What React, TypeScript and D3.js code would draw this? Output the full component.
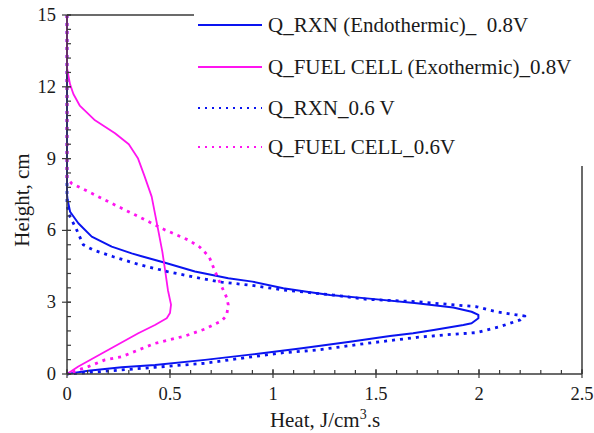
import React from "react";
import * as d3 from "d3";

// Heat profiles along the cell height: [heat J/cm3.s, height cm]
const rxn08: [number, number][] = [
  [0, 15], [0, 7.5], [0.003, 7.27], [0.015, 6.78], [0.055, 6.3], [0.12, 5.74], [0.217, 5.32],
  [0.314, 5.04], [0.362, 4.92], [0.476, 4.65], [0.621, 4.28], [0.783, 4.0], [0.9, 3.86],
  [1.05, 3.58], [1.164, 3.44], [1.277, 3.3], [1.455, 3.16], [1.698, 2.96], [1.875, 2.78],
  [1.964, 2.6], [1.997, 2.47], [1.997, 2.33], [1.964, 2.12], [1.924, 2.05], [1.78, 1.84],
  [1.68, 1.7], [1.568, 1.59], [1.374, 1.35], [1.131, 1.07], [0.9, 0.82], [0.67, 0.59],
  [0.427, 0.38], [0.265, 0.28], [0.103, 0.14], [0, 0],
];

const fuel08: [number, number][] = [
  [0, 15], [0, 12.8], [0.006, 12.5], [0.015, 12.1], [0.031, 11.7], [0.063, 11.2], [0.136, 10.6],
  [0.233, 10.06], [0.3, 9.6], [0.345, 9.0], [0.375, 8.3], [0.411, 7.41], [0.443, 6.0],
  [0.463, 5.1], [0.476, 4.35], [0.49, 3.5], [0.505, 2.9], [0.5, 2.55], [0.484, 2.33],
  [0.427, 2.05], [0.346, 1.7], [0.184, 0.93], [0.055, 0.31], [0, 0],
];

const rxn06: [number, number][] = [
  [0, 15], [0, 7.0], [0.005, 6.9], [0.015, 6.57], [0.047, 6.02], [0.079, 5.4], [0.128, 5.18],
  [0.225, 4.9], [0.354, 4.56], [0.488, 4.28], [0.646, 4.0], [0.75, 3.84], [0.9, 3.7],
  [1.05, 3.51], [1.293, 3.3], [1.455, 3.12], [1.698, 3.02], [1.892, 2.88], [1.988, 2.81],
  [2.086, 2.6], [2.183, 2.47], [2.223, 2.42], [2.2, 2.26], [2.102, 1.98], [1.988, 1.73],
  [1.827, 1.63], [1.698, 1.53], [1.455, 1.28], [1.212, 1.0], [1.05, 0.89], [0.9, 0.72],
  [0.67, 0.45], [0.427, 0.28], [0.265, 0.17], [0.103, 0.06], [0, 0],
];

const fuel06: [number, number][] = [
  [0, 15], [0, 8.18], [0.023, 7.96], [0.12, 7.55], [0.217, 7.13], [0.33, 6.65], [0.476, 6.02],
  [0.589, 5.6], [0.645, 5.3], [0.69, 4.9], [0.718, 4.3], [0.751, 3.65], [0.775, 3.2],
  [0.783, 2.88], [0.775, 2.45], [0.751, 2.22], [0.67, 1.88], [0.573, 1.59], [0.427, 1.28],
  [0.265, 0.72], [0.184, 0.59], [0.103, 0.31], [0, 0],
];

const xTicks = [0, 0.5, 1, 1.5, 2, 2.5];
const yTicks = [0, 3, 6, 9, 12, 15];
const xTickLabels = ["0", "0.5", "1", "1.5", "2", "2.5"];
const yTickLabels = ["0", "3", "6", "9", "12", "15"];

const seriesNames = [
  "Q_RXN (Endothermic)_  0.8V",
  "Q_FUEL CELL (Exothermic)_0.8V",
  "Q_RXN_0.6 V",
  "Q_FUEL CELL_0.6V",
];

const BLUE = "#0a14f0";
const MAGENTA = "#ff14f0";
const AXIS = "#3a3a3a";
const FONT = "Liberation Serif";

export default function App() {
  const W = 594;
  const H = 433;
  const left = 67;
  const right = 582;
  const top = 15;
  const bottom = 374;

  const x = d3.scaleLinear().domain([0, 2.5]).range([left, right]);
  const y = d3.scaleLinear().domain([0, 15]).range([bottom, top]);

  const line = d3
    .line<[number, number]>()
    .x((d) => x(d[0]))
    .y((d) => y(d[1]));

  const series = [
    { data: rxn08, color: BLUE, dash: undefined as string | undefined, width: 2 },
    { data: fuel08, color: MAGENTA, dash: undefined as string | undefined, width: 1.8 },
    { data: rxn06, color: BLUE, dash: "3 5", width: 2.8 },
    { data: fuel06, color: MAGENTA, dash: "3 5", width: 2.8 },
  ];

  const xMinor = d3.range(0, 2.5001, 0.1);
  const yMinor = d3.range(0, 15.001, 0.6);

  const legendY = [25, 67, 108, 147];
  const txt = { fontFamily: FONT, fill: "#1a1a1a" };

  return (
    <svg
      width={W}
      height={H}
      style={{ position: "absolute", left: 0, top: 0, background: "#fff" }}
    >
      <rect x={0} y={0} width={W} height={H} fill="#fff" />

      {/* curves */}
      <g fill="none" strokeLinejoin="round">
        {series.map((s, i) => (
          <path
            key={i}
            d={line(s.data) || ""}
            stroke={s.color}
            strokeWidth={s.width}
            strokeDasharray={s.dash}
          />
        ))}
      </g>

      {/* frame */}
      <g stroke={AXIS} strokeWidth={1.5} fill="none">
        <line x1={left} y1={top} x2={left} y2={bottom} />
        <line x1={left} y1={bottom} x2={right} y2={bottom} />
        <line x1={left} y1={top} x2={W} y2={top} />
        <line x1={right} y1={top} x2={right} y2={bottom} />
      </g>

      {/* ticks */}
      <g stroke={AXIS} strokeWidth={1.2}>
        {xMinor.map((v, i) => (
          <line key={"xm" + i} x1={x(v)} x2={x(v)} y1={bottom} y2={bottom - 4} />
        ))}
        {xTicks.map((v, i) => (
          <line key={"xM" + i} x1={x(v)} x2={x(v)} y1={bottom + 4} y2={bottom - 5} />
        ))}
        {yMinor.map((v, i) => (
          <line key={"ym" + i} x1={left} x2={left + 4} y1={y(v)} y2={y(v)} />
        ))}
        {yTicks.map((v, i) => (
          <line key={"yM" + i} x1={left - 5} x2={left + 4} y1={y(v)} y2={y(v)} />
        ))}
      </g>

      {/* tick labels */}
      <g>
        {xTicks.map((v, i) => (
          <text key={"xl" + i} x={x(v)} y={400} textAnchor="middle" fontSize={18.5} style={txt}>
            {xTickLabels[i]}
          </text>
        ))}
        {yTicks.map((v, i) => (
          <text key={"yl" + i} x={56} y={y(v) + 6} textAnchor="end" fontSize={18.5} style={txt}>
            {yTickLabels[i]}
          </text>
        ))}
      </g>

      {/* axis titles */}
      <text x={325} y={427} textAnchor="middle" fontSize={21} style={txt}>
        Heat, J/cm<tspan dy={-8} fontSize={14}>3</tspan>
        <tspan dy={8}>.s</tspan>
      </text>
      <text
        transform="translate(29,200) rotate(-90)"
        textAnchor="middle"
        fontSize={21}
        style={txt}
      >
        Height, cm
      </text>

      {/* legend */}
      <rect x={194} y={0} width={W - 194} height={166} fill="#fff" />
      <g>
        {seriesNames.map((name, i) => (
          <g key={"lg" + i}>
            <line
              x1={198}
              x2={262}
              y1={legendY[i]}
              y2={legendY[i]}
              stroke={series[i].color}
              strokeWidth={i < 2 ? 2 : 1.8}
              strokeDasharray={i < 2 ? undefined : "2 5"}
            />
            <text
              x={268}
              y={legendY[i] + 7}
              fontSize={21}
              style={{ ...txt, whiteSpace: "pre" }}
            >
              {name}
            </text>
          </g>
        ))}
      </g>
    </svg>
  );
}
